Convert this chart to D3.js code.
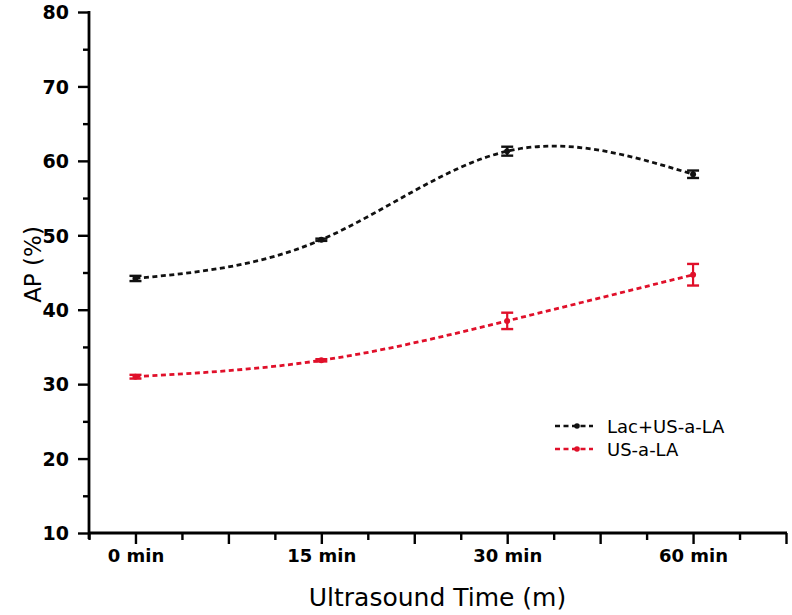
<!DOCTYPE html>
<html>
<head>
<meta charset="utf-8">
<script src="https://cdn.jsdelivr.net/npm/d3@7"></script>
<style>
  html, body { margin: 0; padding: 0; background: #fff; }
  svg { display: block; }
  text { font-family: "DejaVu Sans", "Liberation Sans", Arial, sans-serif; fill: #000; }
</style>
</head>
<body>
<svg id="chart" width="792" height="615"></svg>
<script>
// ---- data ----
const categories = ["0 min", "15 min", "30 min", "60 min"];
const seriesNames = ["Lac+US-a-LA", "US-a-LA"];
const lacValues = [44.2, 49.4, 61.3, 58.2];
const lacErrors = [0.35, 0.15, 0.6, 0.5];
const usValues = [31.0, 33.2, 38.5, 44.7];
const usErrors = [0.25, 0.15, 1.1, 1.45];
const yTicks = [10, 20, 30, 40, 50, 60, 70, 80];
const yMinorTicks = [15, 25, 35, 45, 55, 65, 75];
const xLabel = "Ultrasound Time (m)";
const yLabel = "AP (%)";

const colors = { lac: "#111111", us: "#e0102a" };

const svg = d3.select("#chart");
const pLeft = 89, pRight = 786, pTop = 12, pBottom = 533;

const x = d3.scaleLinear().domain([-0.25, 3.5]).range([pLeft, pRight]);
const y = d3.scaleLinear().domain([10, 80]).range([pBottom, pTop]);

// ---- axes ----
const xMajor = d3.range(0, 3.51, 0.5);
const xMinor = d3.range(-0.25, 3.5, 0.5);

const xAxis = d3.axisBottom(x).tickValues(xMajor).tickSize(11)
  .tickFormat(d => Number.isInteger(d) && d < categories.length ? categories[d] : "");
const xAxisMinor = d3.axisBottom(x).tickValues(xMinor).tickSize(7).tickFormat("");
const yAxis = d3.axisLeft(y).tickValues(yTicks).tickSize(11).tickFormat(d3.format("d"));
const yAxisMinor = d3.axisLeft(y).tickValues(yMinorTicks).tickSize(6).tickFormat("");

function styleAxis(g, size) {
  g.select(".domain").remove();
  g.selectAll(".tick line").attr("stroke", "#000").attr("stroke-width", 2.4);
  g.selectAll(".tick text").attr("fill", "#000").style("font-weight", "bold").style("font-size", size + "px")
    .style("font-family", "'DejaVu Sans', sans-serif");
}

svg.append("g").attr("transform", `translate(0,${pBottom})`).call(xAxisMinor).call(styleAxis, 18);
const gx = svg.append("g").attr("transform", `translate(0,${pBottom})`).call(xAxis).call(styleAxis, 18);
gx.selectAll(".tick text").attr("y", 16);

svg.append("g").attr("transform", `translate(${pLeft},0)`).call(yAxisMinor).call(styleAxis, 19);
const gy = svg.append("g").attr("transform", `translate(${pLeft},0)`).call(yAxis).call(styleAxis, 19);
gy.selectAll(".tick text").attr("x", -20).attr("dy", "0.36em");

// axis lines
svg.append("line").attr("x1", pLeft).attr("x2", pLeft).attr("y1", pTop - 1).attr("y2", pBottom + 6)
  .attr("stroke", "#000").attr("stroke-width", 2.8);
svg.append("line").attr("x1", pLeft - 1).attr("x2", pRight + 1).attr("y1", pBottom).attr("y2", pBottom)
  .attr("stroke", "#000").attr("stroke-width", 2.8);

// axis titles
svg.append("text").attr("x", (pLeft + pRight) / 2).attr("y", 606).attr("text-anchor", "middle")
  .style("font-size", "25px").text(xLabel);
svg.append("text").attr("transform", `translate(41,${(pTop + pBottom) / 2 - 8}) rotate(-90)`)
  .attr("text-anchor", "middle").style("font-size", "23px").text(yLabel);

// ---- series ----
const line = d3.line().x((d, i) => x(i)).y(d => y(d)).curve(d3.curveNatural);

function drawSeries(values, errors, color) {
  svg.append("path").datum(values).attr("d", line)
    .attr("fill", "none").attr("stroke", color).attr("stroke-width", 2.8)
    .attr("stroke-dasharray", "5,3.5");
  const g = svg.append("g");
  values.forEach((v, i) => {
    const cx = x(i);
    g.append("line").attr("x1", cx).attr("x2", cx).attr("y1", y(v + errors[i])).attr("y2", y(v - errors[i]))
      .attr("stroke", color).attr("stroke-width", 2.2);
    [v + errors[i], v - errors[i]].forEach(e => {
      g.append("line").attr("x1", cx - 6).attr("x2", cx + 6).attr("y1", y(e)).attr("y2", y(e))
        .attr("stroke", color).attr("stroke-width", 2.4);
    });
    g.append("circle").attr("cx", cx).attr("cy", y(v)).attr("r", 3).attr("fill", color);
  });
}

drawSeries(lacValues, lacErrors, colors.lac);
drawSeries(usValues, usErrors, colors.us);

// ---- legend ----
const legend = [
  { name: seriesNames[0], color: colors.lac, yy: 426 },
  { name: seriesNames[1], color: colors.us, yy: 449 }
];
legend.forEach(l => {
  svg.append("line").attr("x1", 555).attr("x2", 593).attr("y1", l.yy).attr("y2", l.yy)
    .attr("stroke", l.color).attr("stroke-width", 2.6).attr("stroke-dasharray", "5,3.5");
  svg.append("circle").attr("cx", 577).attr("cy", l.yy).attr("r", 2.8).attr("fill", l.color);
  svg.append("text").attr("x", 607).attr("y", l.yy + 6.5).style("font-size", "18px").text(l.name);
});
</script>
</body>
</html>
